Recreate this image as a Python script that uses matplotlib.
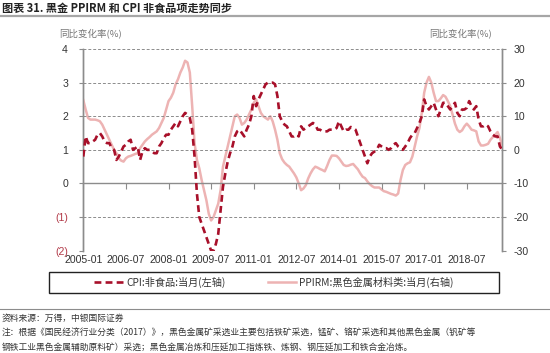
import matplotlib
matplotlib.use("Agg")
import matplotlib.pyplot as plt
from matplotlib.lines import Line2D
from matplotlib.patches import Rectangle
import numpy as np
import pandas as pd

plt.rcParams['font.family'] = ['Noto Sans CJK SC', 'DejaVu Sans']

# ---------------- data ----------------
months = pd.date_range('2005-01-01', periods=178, freq='MS').strftime('%Y-%m').tolist()

cpi_nonfood = [
    0.8, 1.4, 1.2, 1.2, 1.25, 1.3, 1.45, 1.5, 1.4, 1.25,
    1.2, 1.2, 1.05, 1.0, 0.7, 0.8, 0.95, 1.1, 1.15, 1.25,
    1.3, 1.0, 1.05, 1.1, 0.7, 0.95, 1.05, 1.0, 1.0, 0.95,
    0.9, 0.9, 1.1, 1.2, 1.35, 1.45, 1.45, 1.6, 1.7, 1.8,
    1.7, 1.85, 2.0, 2.1, 2.05, 1.95, 1.6, 0.8, -0.3, -1.0,
    -1.2, -1.4, -1.6, -1.8, -2.0, -2.0, -1.8, -1.5, -0.8, -0.1,
    0.3, 0.65, 0.9, 1.1, 1.4, 1.55, 1.6, 1.5, 1.4, 1.6,
    1.75, 2.0, 2.6, 2.3, 2.5, 2.65, 2.8, 2.95, 3.0, 3.0,
    3.0, 2.95, 2.6, 2.0, 1.85, 1.75, 1.7, 1.55, 1.4, 1.4,
    1.45, 1.4, 1.7, 1.6, 1.65, 1.7, 1.75, 1.8, 1.75, 1.6,
    1.6, 1.55, 1.55, 1.55, 1.6, 1.6, 1.6, 1.65, 1.85, 1.7,
    1.55, 1.6, 1.6, 1.68, 1.65, 1.6, 1.4, 1.2, 1.0, 0.8,
    0.6, 0.8, 0.9, 0.95, 1.0, 1.15, 1.1, 1.05, 1.05, 1.0,
    1.05, 1.15, 1.2, 1.1, 1.05, 1.0, 1.1, 1.2, 1.35, 1.45,
    1.5, 1.65, 1.8, 2.0, 2.5, 2.3, 2.2, 2.3, 2.4, 2.2,
    2.0, 2.2, 2.4, 2.4, 2.3, 2.2, 2.3, 2.4, 2.1, 2.0,
    2.2, 2.2, 2.25, 2.45, 2.3, 2.2, 2.3, 1.9, 1.7, 1.7,
    1.75, 1.7, 1.55, 1.45, 1.4, 1.4, 1.1, 1.0,
]

ppirm_ferrous = [
    14.8, 12, 9.5, 9, 9, 9, 8.8, 8.5, 7.5, 6,
    4.5, 3, 1.5, 0, -1, -2.5, -3.2, -3.5, -2.5, -2,
    -1.8, -1.5, -1.2, -1, 0.5, 1.5, 2.5, 3.2, 3.8, 4.5,
    5, 5.5, 6.5, 8, 9.5, 12, 14.5, 15.5, 17, 19.5,
    21, 23, 24.5, 26.5, 26, 23, 13, 2, -3, -5.5,
    -9, -12, -15, -19, -21, -20, -18, -16, -12, -5,
    -2, 1, 4, 7, 10, 10.5, 9.5, 7.5, 8, 9,
    10.5, 12, 14, 15, 13, 11, 10, 9.5, 9, 10,
    8.5, 6, 3, -1, -2.8, -3.8, -4.5, -5, -6, -7,
    -8.2, -10, -12, -11.5, -10.5, -8.5, -7, -5.8, -5, -5.3,
    -5.7, -6, -6.4, -4.8, -3, -1.7, -1.7, -1.8, -2.5, -3.5,
    -4.5, -4.8, -4.7, -4.4, -4.2, -5, -5.8, -7, -8, -8.4,
    -9.4, -10.2, -10.8, -11.2, -11.2, -11.2, -11.8, -12.3, -12.5, -12.8,
    -13.1, -13.3, -13.6, -13, -9, -6, -4.5, -4, -3.7, -2,
    1, 4, 6.5, 11, 17, 20, 21.7, 20, 17, 14.5,
    14.5, 15.3, 16.3, 15.8, 14.5, 13, 10.5, 7.8, 6, 5.3,
    5.8, 7, 7.8, 7, 6, 5.8, 5.5, 2.5, 1.3, 1.3,
    1.5, 1.8, 3, 3.8, 4.5, 5.3, 3.5, 1,
]

xtick_labels = ['2005-01', '2006-07', '2008-01', '2009-07', '2011-01',
                '2012-07', '2014-01', '2015-07', '2017-01', '2018-07']
left_ticks = [-2, -1, 0, 1, 2, 3, 4]
left_tick_labels = ['(2)', '(1)', '0', '1', '2', '3', '4']
right_ticks = [-30, -20, -10, 0, 10, 20, 30]

label_cpi = 'CPI:非食品:当月(左轴)'
label_ppirm = 'PPIRM:黑色金属材料类:当月(右轴)'
title = '图表 31. 黑金 PPIRM 和 CPI 非食品项走势同步'
axis_label = '同比变化率(%)'
source = '资料来源：万得，中银国际证券'
note1 = '注：根据《国民经济行业分类（2017）》，黑色金属矿采选业主要包括铁矿采选，锰矿、铬矿采选和其他黑色金属（钒矿等'
note2 = '钢铁工业黑色金属辅助原料矿）采选；黑色金属冶炼和压延加工指炼铁、炼钢、钢压延加工和铁合金冶炼。'

# ---------------- styles ----------------
CPI_COLOR = '#A8102A'
PPI_COLOR = '#EDB3B3'
GRID = '#8C8C8C'
AXC = '#8C8C8C'
TXT = '#333333'
NEG = '#B23A48'

W, H = 550, 353
fig = plt.figure(figsize=(W / 100, H / 100), dpi=100)
L, R, T, B = 83.3, 502.3, 49, 250.7
ax = fig.add_axes([L / W, 1 - B / H, (R - L) / W, (B - T) / H])
ax2 = ax.twinx()

x = np.arange(len(months))

ax2.plot(x, ppirm_ferrous, color=PPI_COLOR, lw=1.8, solid_joinstyle='round', zorder=3)
ax.plot(x, cpi_nonfood, color=CPI_COLOR, lw=1.9, dashes=(2.6, 1.6), zorder=4)

ax.set_zorder(ax2.get_zorder() + 1)
ax.patch.set_visible(False)

ax.set_xlim(0, len(months) - 1)
ax.set_ylim(-2, 4)
ax2.set_ylim(-30, 30)

xt = [months.index(lbl) for lbl in xtick_labels]
ax.set_xticks(xt)
ax.set_xticklabels(xtick_labels, fontsize=7.6, color=TXT,
                   family=['Liberation Sans Narrow', 'Liberation Sans', 'DejaVu Sans'])
ax.tick_params(axis='x', length=0, pad=3)

ax.set_yticks(left_ticks)
ax.set_yticklabels(left_tick_labels, fontsize=7.6,
                   family=['Liberation Sans Narrow', 'Liberation Sans', 'DejaVu Sans'])
for t, v in zip(ax.get_yticklabels(), left_ticks):
    t.set_color(NEG if v < 0 else TXT)
ax.tick_params(axis='y', length=3, color=AXC, pad=8)

ax2.set_yticks(right_ticks)
ax2.set_yticklabels([str(v) for v in right_ticks], fontsize=7.6, color=TXT,
                    family=['Liberation Sans Narrow', 'Liberation Sans', 'DejaVu Sans'])
ax2.tick_params(axis='y', length=3, color=AXC, pad=5)

ax.grid(axis='y', color=GRID, lw=0.7, ls=(0, (3, 2)))
ax.set_axisbelow(True)

for a in (ax, ax2):
    a.spines['top'].set_visible(False)
    a.spines['bottom'].set_visible(False)
    a.spines['left'].set_color(AXC)
    a.spines['right'].set_color(AXC)
    a.spines['left'].set_linewidth(1.0)
    a.spines['right'].set_linewidth(1.0)

# category axis crossing at zero
sec = ax.secondary_xaxis(1 / 3)
sec.set_xticks(xt)
sec.tick_params(axis='x', length=4, color=AXC, labelbottom=False, labeltop=False)
sec.spines['bottom'].set_color(AXC)
sec.spines['bottom'].set_linewidth(1.0)

# titles and labels
fig.text(2 / W, 1 - 8 / H, title, fontsize=8, fontweight='bold', color='#222222',
         ha='left', va='center')
fig.add_artist(Line2D([0, 1], [1 - 15.5 / H, 1 - 15.5 / H], transform=fig.transFigure,
                      color='#A6A6A6', lw=1.6))
fig.text(91 / W, 1 - 33 / H, axis_label, fontsize=6.8, color='#777777', ha='center', va='center')
fig.text(461 / W, 1 - 33 / H, axis_label, fontsize=6.8, color='#777777', ha='center', va='center')

# legend
fig.add_artist(Rectangle((49 / W, 1 - 293 / H), 450 / W, 21 / H, transform=fig.transFigure,
                         fill=False, edgecolor='#222222', lw=1.0))
h1 = Line2D([], [], color=CPI_COLOR, lw=1.9, dashes=(2.6, 1.6))
h2 = Line2D([], [], color=PPI_COLOR, lw=1.8)
fig.legend([h1, h2], [label_cpi, label_ppirm], loc='center',
           bbox_to_anchor=(274 / W, 1 - 282.5 / H), ncol=2, frameon=False,
           fontsize=7.3, handlelength=2.8, handletextpad=0.3, columnspacing=4.2,
           labelcolor='#333333')

fig.add_artist(Line2D([0, 1], [1 - 309 / H, 1 - 309 / H], transform=fig.transFigure,
                      color='#8C8C8C', lw=0.8))
fig.text(2 / W, 1 - 318 / H, source, fontsize=6.3, color='#333333', ha='left', va='center')
fig.text(2 / W, 1 - 333 / H, note1, fontsize=6.3, color='#333333', ha='left', va='center')
fig.text(2 / W, 1 - 347 / H, note2, fontsize=6.3, color='#333333', ha='left', va='center')

fig.savefig('out.png', dpi=100)
